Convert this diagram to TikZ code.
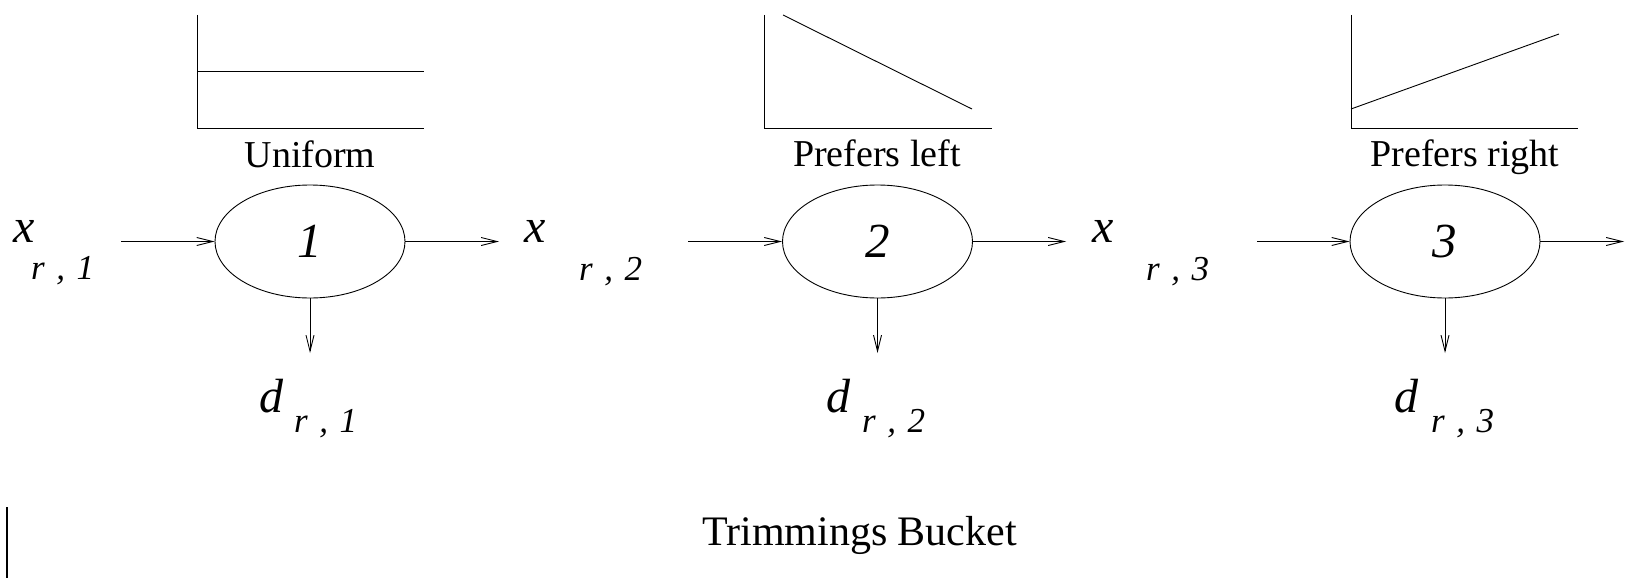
\documentclass[tikz,border=0pt]{standalone}
\usepackage{fontspec}
\setmainfont{Liberation Serif}
\usetikzlibrary{arrows.meta,shapes.geometric}
\newcommand{\subtxt}[2]{#1\hspace{0.33em},\hspace{0.33em}#2}
\begin{document}
\begin{tikzpicture}[x=1pt,y=-1pt,
  ln/.style={line width=0.9pt},
  arr/.style={ln,-{Straight Barb[length=16pt,width=8pt,line width=0.9pt]}},
  blob/.style={ellipse,draw,line width=0.9pt,minimum width=190pt,minimum height=113pt,inner sep=0pt,font=\fontsize{49}{50}\selectfont\itshape},
  mainlbl/.style={anchor=base west,inner sep=0pt,font=\fontsize{48}{50}\selectfont\itshape},
  sublbl/.style={anchor=base west,inner sep=0pt,font=\fontsize{35}{36}\selectfont\itshape},
  plotlbl/.style={anchor=base,inner sep=0pt,font=\fontsize{38}{40}\selectfont},
  titlelbl/.style={anchor=base west,inner sep=0pt,font=\fontsize{42}{44}\selectfont}
]
\useasboundingbox (0,0) rectangle (1625,578);

% plots
\draw[ln] (197,15) -- (197,128) -- (424,128);
\draw[ln] (197,71) -- (424,71);
\node[plotlbl] (p1) at (310,167) {Uniform};

\draw[ln] (764,15) -- (764,128) -- (992,128);
\draw[ln] (783,15) -- (972,109);
\node[plotlbl] (p2) at (877,166) {Prefers left};

\draw[ln] (1351,15) -- (1351,128) -- (1578,128);
\draw[ln] (1351,109) -- (1559,34);
\node[plotlbl] (p3) at (1465,166) {Prefers right};

% stages
\node[blob] (e1) at (310,241.5) {1};
\node[blob] (e2) at (877.5,241.5) {2};
\node[blob] (e3) at (1445,241.5) {3};

% x labels
\node[mainlbl] (x1) at (13,242) {x};
\node[sublbl] (x1s) at (31,279) {\subtxt{r}{1}};
\node[mainlbl] (x2) at (524,242) {x};
\node[sublbl] (x2s) at (579,280) {\subtxt{r}{2}};
\node[mainlbl] (x3) at (1092,242) {x};
\node[sublbl] (x3s) at (1146,280) {\subtxt{r}{3}};

% d labels
\node[mainlbl] (d1) at (259,412) {d};
\node[sublbl] (d1s) at (294,432) {\subtxt{r}{1}};
\node[mainlbl] (d2) at (826,412) {d};
\node[sublbl] (d2s) at (862,432) {\subtxt{r}{2}};
\node[mainlbl] (d3) at (1394,412) {d};
\node[sublbl] (d3s) at (1431,432) {\subtxt{r}{3}};

% connector ends
\coordinate (i1) at (121,241.5);
\coordinate (i2) at (688,241.5);
\coordinate (i3) at (1257,241.5);
\coordinate (o1) at (499,241.5);
\coordinate (o2) at (1066,241.5);
\coordinate (o3) at (1624,241.5);
\coordinate (b1) at (310,353);
\coordinate (b2) at (877.5,353);
\coordinate (b3) at (1445,353);

\draw[arr] (i1) -- (e1.west);
\draw[arr] (e1.east) -- (o1);
\draw[arr] (e1.south) -- (b1);
\draw[arr] (i2) -- (e2.west);
\draw[arr] (e2.east) -- (o2);
\draw[arr] (e2.south) -- (b2);
\draw[arr] (i3) -- (e3.west);
\draw[arr] (e3.east) -- (o3);
\draw[arr] (e3.south) -- (b3);

% bucket
\node[titlelbl] (tb) at (702,545) {Trimmings Bucket};
\coordinate (v1) at (7,507);
\coordinate (v2) at (7,578);
\draw[line width=1.4pt] (v1) -- (v2);
\end{tikzpicture}
\end{document}
